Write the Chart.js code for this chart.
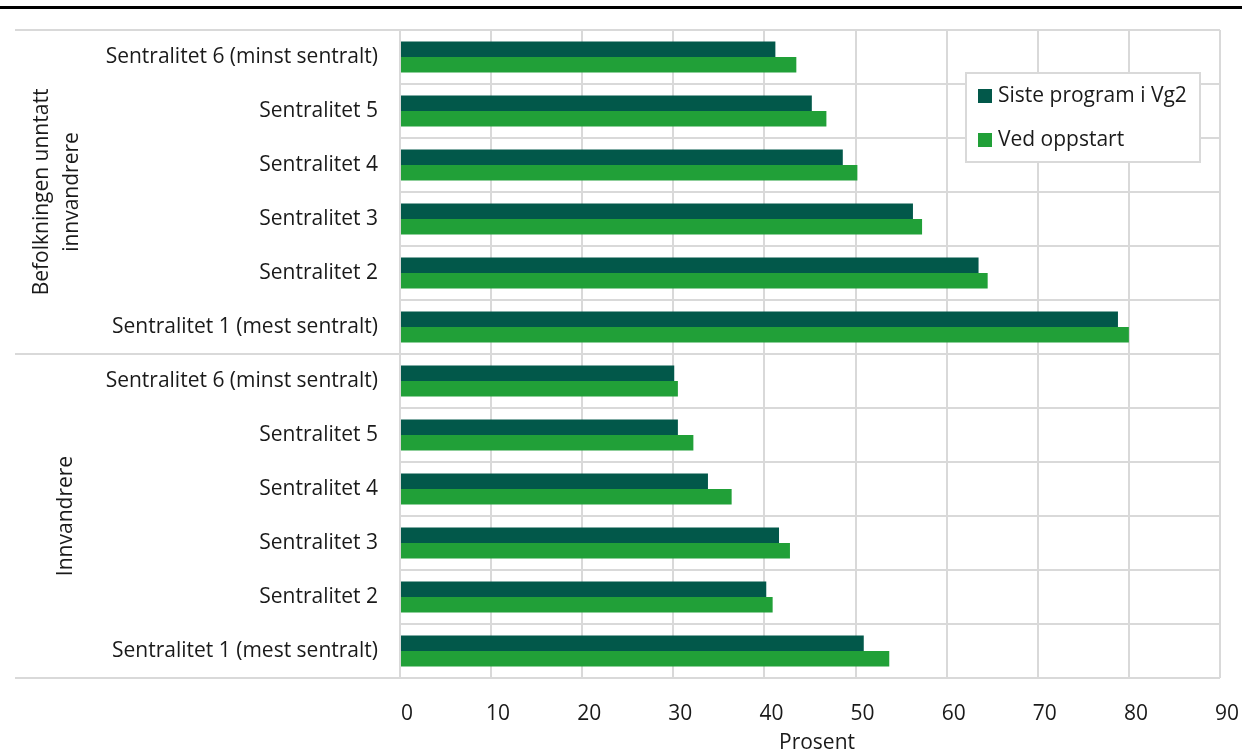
<!DOCTYPE html>
<html>
<head>
<meta charset="utf-8">
<script src="https://cdn.jsdelivr.net/npm/chart.js@4.4.1/dist/chart.umd.min.js"></script>
<style>
  html, body { margin: 0; padding: 0; background: #fff; }
  #wrap { width: 1242px; height: 753px; position: relative; }
</style>
</head>
<body>
<div id="wrap"><canvas id="chart"></canvas></div>
<script>
// Categories (top to bottom)
const categories = [
    'Sentralitet 6 (minst sentralt)', 'Sentralitet 5', 'Sentralitet 4',
    'Sentralitet 3', 'Sentralitet 2', 'Sentralitet 1 (mest sentralt)',
    'Sentralitet 6 (minst sentralt)', 'Sentralitet 5', 'Sentralitet 4',
    'Sentralitet 3', 'Sentralitet 2', 'Sentralitet 1 (mest sentralt)'
];
const groupLabels = [['Befolkningen unntatt', 'innvandrere'], ['Innvandrere']];
const groupSizes = [6, 6];

const seriesNames = ['Siste program i Vg2', 'Ved oppstart'];
const sisteProgram = [41.2, 45.2, 48.6, 56.3, 63.5, 78.8, 30.1, 30.5, 33.8, 41.6, 40.2, 50.9];
const vedOppstart = [43.5, 46.8, 50.2, 57.3, 64.5, 80.0, 30.5, 32.2, 36.4, 42.8, 40.9, 53.7];

const xTicks = [0, 10, 20, 30, 40, 50, 60, 70, 80, 90];
const xTitle = 'Prosent';

const FONT = '"Open Sans", "Noto Sans", sans-serif';
const TEXT = '#1a1a1a';
const GRID = '#d9d9d9';
const colors = ['#02584a', '#21a038'];

// Draws group labels, separator lines, top rule, axis title and the legend box
const extras = {
    id: 'extras',
    afterDraw(chart) {
        const ctx = chart.ctx;
        const area = chart.chartArea;
        const y = chart.scales.y;
        ctx.save();

        // thick top rule
        ctx.strokeStyle = '#000';
        ctx.lineWidth = 3;
        ctx.beginPath();
        ctx.moveTo(0, 7.5);
        ctx.lineTo(chart.width, 7.5);
        ctx.stroke();

        // group separators extended into the label area
        const half = (y.getPixelForValue(1) - y.getPixelForValue(0)) / 2;
        let idx = 0;
        const bounds = [y.getPixelForValue(0) - half];
        groupSizes.forEach(n => {
            idx += n;
            bounds.push(y.getPixelForValue(idx - 1) + half);
        });
        ctx.strokeStyle = GRID;
        ctx.lineWidth = 2;
        bounds.forEach(b => {
            ctx.beginPath();
            ctx.moveTo(15, b);
            ctx.lineTo(area.left, b);
            ctx.stroke();
        });

        // rotated group labels (baseline x positions)
        ctx.fillStyle = TEXT;
        ctx.font = '21px ' + FONT;
        ctx.textAlign = 'center';
        ctx.textBaseline = 'alphabetic';
        const baseX = [[48, 78], [72]];
        groupLabels.forEach((lines, g) => {
            const cy = (bounds[g] + bounds[g + 1]) / 2;
            lines.forEach((txt, i) => {
                ctx.save();
                ctx.translate(baseX[g][i], cy);
                ctx.rotate(-Math.PI / 2);
                ctx.fillText(txt, 0, 0);
                ctx.restore();
            });
        });

        // x axis title, slightly right of centre like the original
        ctx.textBaseline = 'middle';
        ctx.fillText(xTitle, (area.left + area.right) / 2 + 7, 743);

        // legend box
        const lx = 966, ly = 73, lw = 234, lh = 89;
        ctx.fillStyle = '#fff';
        ctx.fillRect(lx, ly, lw, lh);
        ctx.strokeStyle = GRID;
        ctx.lineWidth = 2;
        ctx.strokeRect(lx, ly, lw, lh);
        ctx.textAlign = 'left';
        ctx.font = '21px ' + FONT;
        chart.data.datasets.forEach((ds, i) => {
            const cy = 96 + i * 44;
            ctx.fillStyle = ds.backgroundColor;
            ctx.fillRect(978, cy - 7, 14, 14);
            ctx.fillStyle = TEXT;
            ctx.fillText(ds.label, 998, cy);
        });

        ctx.restore();
    }
};

new Chart(document.getElementById('chart'), {
    type: 'bar',
    data: {
        labels: categories,
        datasets: [
            { label: seriesNames[0], data: sisteProgram, backgroundColor: colors[0] },
            { label: seriesNames[1], data: vedOppstart, backgroundColor: colors[1] }
        ]
    },
    options: {
        indexAxis: 'y',
        responsive: true,
        maintainAspectRatio: false,
        animation: false,
        datasets: {
            bar: { categoryPercentage: 0.57, barPercentage: 1.0 }
        },
        layout: { padding: { top: 30, right: 22, left: 0, bottom: 0 } },
        scales: {
            x: {
                min: 0,
                max: 90,
                afterBuildTicks(scale) {
                    scale.ticks = xTicks.map(v => ({ value: v }));
                },
                afterFit(scale) {
                    scale.height = 75;
                    scale.paddingLeft = 0;
                    scale.paddingRight = 0;
                },
                grid: { color: GRID, lineWidth: 2, drawTicks: false },
                border: { display: false },
                ticks: {
                    color: TEXT,
                    font: { family: FONT, size: 21 },
                    padding: 23,
                    labelOffset: 7,
                    maxRotation: 0
                },
                title: { display: false }
            },
            y: {
                afterFit(scale) {
                    scale.width = 400;
                    scale.paddingTop = 0;
                    scale.paddingBottom = 0;
                },
                grid: { color: GRID, lineWidth: 2, drawTicks: false, offset: true },
                border: { color: GRID, width: 2 },
                ticks: {
                    color: TEXT,
                    font: { family: FONT, size: 21 },
                    padding: 22,
                    autoSkip: false
                }
            }
        },
        plugins: {
            legend: { display: false },
            tooltip: { enabled: false }
        }
    },
    plugins: [extras]
});
</script>
</body>
</html>
